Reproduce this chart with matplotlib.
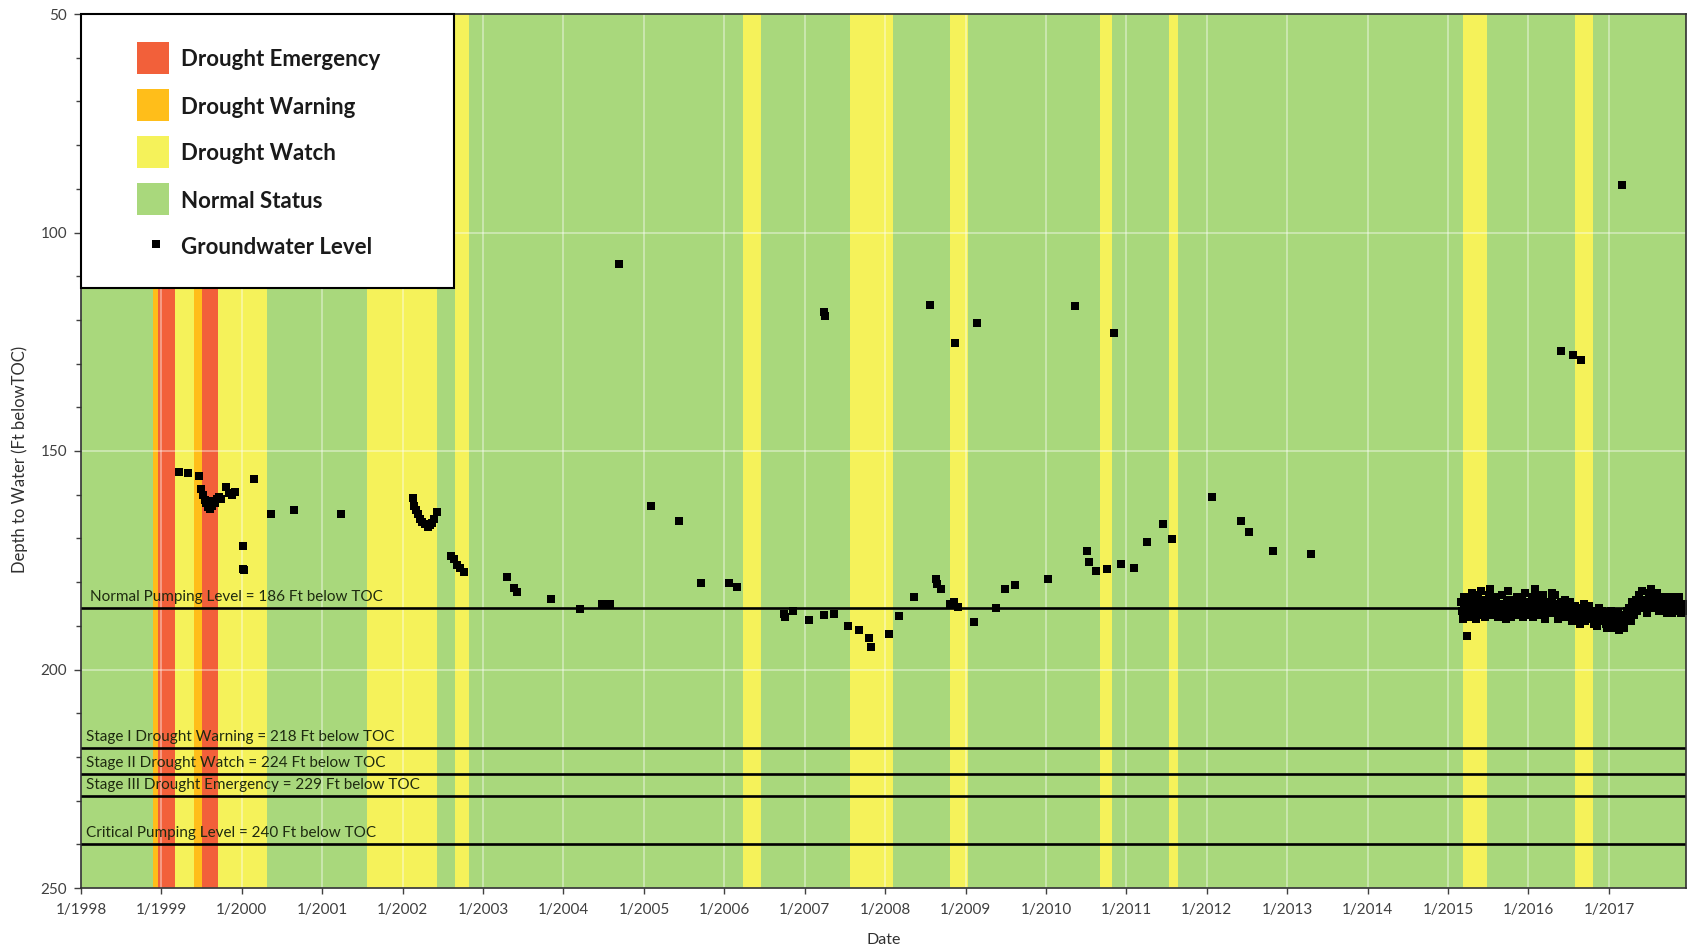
import numpy as np
import pandas as pd
import matplotlib
matplotlib.use('Agg')
import matplotlib.pyplot as plt
import matplotlib.dates as mdates
import matplotlib.ticker as mticker
import matplotlib.transforms as mtransforms
from matplotlib.patches import Rectangle

plt.rcParams['font.family'] = ['Lato', 'DejaVu Sans']

# ---------------- data ----------------
status_names = ['Drought Emergency', 'Drought Warning', 'Drought Watch', 'Normal Status']
status_colors = ['#F2603A', '#FFBE1A', '#F5F25A', '#A9D87C']

band_start = ['1998-11-25', '1998-12-17', '1999-03-03', '1999-05-30', '1999-07-06',
              '1999-09-13', '2001-07-23', '2002-08-25', '2006-03-28', '2007-07-25',
              '2008-10-23', '2010-09-02', '2011-07-16', '2015-03-10', '2016-07-30']
band_end = ['1998-12-17', '1999-03-03', '1999-05-30', '1999-07-06', '1999-09-13',
            '2000-04-27', '2002-06-06', '2002-10-30', '2006-06-16', '2008-02-06',
            '2009-01-12', '2010-10-27', '2011-08-25', '2015-06-28', '2016-10-22']
band_status = ['Drought Warning', 'Drought Emergency', 'Drought Watch', 'Drought Warning',
               'Drought Emergency', 'Drought Watch', 'Drought Watch', 'Drought Watch',
               'Drought Watch', 'Drought Watch', 'Drought Watch', 'Drought Watch',
               'Drought Watch', 'Drought Watch', 'Drought Watch']

gw_dates = ['1999-03-20', '1999-05-01', '1999-06-21', '1999-07-01', '1999-07-10',
            '1999-07-18', '1999-07-25', '1999-08-02', '1999-08-10', '1999-08-18',
            '1999-08-25', '1999-09-02', '1999-09-10', '1999-09-20', '1999-10-01',
            '1999-10-20', '1999-11-05', '1999-11-20', '1999-12-01', '2000-01-05',
            '2000-01-08', '2000-01-12', '2000-02-28', '2000-05-15', '2000-08-25',
            '2001-03-25', '2002-02-15', '2002-02-22', '2002-03-01', '2002-03-10',
            '2002-03-20', '2002-04-01', '2002-04-12', '2002-04-25', '2002-05-05',
            '2002-05-15', '2002-05-25', '2002-06-05', '2002-08-08', '2002-08-20',
            '2002-09-05', '2002-09-20', '2002-10-08', '2003-04-22', '2003-05-22',
            '2003-06-05', '2003-11-05', '2004-03-18', '2004-06-25', '2004-07-30',
            '2004-09-10', '2005-02-03', '2005-06-10', '2005-09-17', '2006-01-22',
            '2006-03-01', '2006-09-27', '2006-10-05', '2006-11-10', '2007-01-22',
            '2007-04-01', '2007-04-03', '2007-04-01', '2007-05-12', '2007-07-16',
            '2007-09-05', '2007-10-20', '2007-10-27', '2008-01-18', '2008-03-03',
            '2008-05-12', '2008-07-23', '2008-08-18', '2008-08-25', '2008-09-12',
            '2008-10-20', '2008-11-07', '2008-11-14', '2008-11-28', '2009-02-06',
            '2009-02-20', '2009-05-18', '2009-07-01', '2009-08-15', '2010-01-08',
            '2010-05-12', '2010-07-05', '2010-07-16', '2010-08-18', '2010-10-05',
            '2010-11-06', '2010-12-10', '2011-02-06', '2011-04-05', '2011-06-18',
            '2011-07-26', '2012-01-26', '2012-06-03', '2012-07-09', '2012-10-27',
            '2013-04-20', '2015-03-28', '2016-05-26', '2016-07-20', '2016-08-28',
            '2017-03-01']
gw_depth = [154.7, 155.1, 155.7, 158.8, 160.0,
            161.2, 162.0, 162.8, 163.2, 162.5,
            161.5, 162.0, 161.0, 160.5, 161.0,
            158.2, 159.5, 160.0, 159.3, 171.7,
            177.0, 177.3, 156.3, 164.5, 163.4,
            164.4, 160.8, 162.5, 163.5, 164.5,
            165.5, 166.2, 166.8, 167.3, 167.0,
            166.5, 165.5, 164.0, 174.0, 174.8,
            176.0, 176.8, 177.8, 178.9, 181.4,
            182.2, 183.9, 186.2, 185.1, 185.1,
            107.1, 162.7, 166.1, 180.2, 180.2,
            181.2, 187.4, 188.0, 186.7, 188.7,
            118.3, 119.2, 187.5, 187.2, 190.1,
            190.9, 192.9, 194.9, 191.9, 187.8,
            183.3, 116.7, 179.2, 180.4, 181.6,
            184.9, 184.5, 125.3, 185.6, 189.2,
            120.8, 185.9, 181.5, 180.7, 179.4,
            116.9, 172.9, 175.3, 177.4, 177.0,
            122.9, 175.8, 176.7, 170.8, 166.6,
            170.2, 160.6, 166.1, 168.6, 172.9,
            173.6, 192.3, 127.1, 128.0, 129.2,
            89.1]

# transducer record 2015-2017: twice-weekly readings grouped by month
dense_months = ['2015-03', '2015-04', '2015-05', '2015-06', '2015-07', '2015-08',
                '2015-09', '2015-10', '2015-11', '2015-12', '2016-01', '2016-02',
                '2016-03', '2016-04', '2016-05', '2016-06', '2016-07', '2016-08',
                '2016-09', '2016-10', '2016-11', '2016-12', '2017-01', '2017-02',
                '2017-03', '2017-04', '2017-05', '2017-06', '2017-07', '2017-08',
                '2017-09', '2017-10', '2017-11', '2017-12']
dense_readings = [
    [184.5, 186.5, 188.5, 185.0, 183.5, 187.0, 185.5, 184.0],
    [187.5, 185.5, 184.0, 186.0, 188.0, 182.5, 185.0, 186.5],
    [185.5, 187.0, 188.5, 184.5, 183.0, 186.0, 187.5, 185.0],
    [182.0, 184.0, 186.0, 187.5, 188.0, 185.5, 184.5, 186.5],
    [185.0, 183.0, 181.5, 185.5, 187.5, 186.0, 184.0, 185.5],
    [186.5, 184.5, 183.5, 186.0, 188.0, 185.5, 185.0, 187.0],
    [183.0, 185.0, 187.0, 186.0, 185.5, 187.5, 188.5, 184.5],
    [182.0, 184.0, 185.5, 187.0, 188.0, 186.0, 184.0, 185.5],
    [186.0, 184.5, 183.5, 185.5, 187.5, 186.5, 185.0, 184.0],
    [184.0, 186.0, 188.0, 185.0, 182.5, 184.5, 186.5, 187.5],
    [185.5, 186.5, 187.5, 185.0, 183.5, 186.0, 188.0, 184.5],
    [181.5, 183.5, 185.5, 186.5, 187.5, 185.0, 184.0, 186.0],
    [186.0, 184.5, 183.0, 185.5, 188.5, 186.5, 185.0, 187.0],
    [184.5, 186.0, 187.0, 185.0, 182.5, 184.0, 186.5, 185.5],
    [183.0, 185.0, 186.5, 187.5, 188.5, 186.0, 185.5, 184.5],
    [185.0, 186.5, 188.0, 186.0, 184.0, 185.5, 187.0, 186.0],
    [186.5, 185.5, 184.5, 187.0, 189.0, 187.5, 187.0, 186.0],
    [185.5, 187.0, 188.5, 187.5, 186.0, 188.0, 189.5, 187.0],
    [187.0, 186.0, 185.0, 187.5, 189.0, 188.0, 186.5, 187.5],
    [185.5, 187.0, 188.5, 188.0, 187.0, 188.5, 189.5, 186.5],
    [187.5, 189.0, 190.0, 188.0, 186.0, 187.5, 188.5, 189.0],
    [186.5, 188.0, 189.0, 188.5, 187.5, 189.5, 190.5, 188.0],
    [188.0, 187.0, 186.5, 188.5, 190.5, 189.0, 187.5, 188.5],
    [189.0, 188.0, 187.0, 189.0, 191.0, 189.5, 188.0, 188.5],
    [187.5, 189.0, 190.5, 189.5, 188.5, 187.5, 186.5, 188.0],
    [186.0, 187.5, 189.0, 186.5, 184.5, 186.0, 187.5, 185.5],
    [184.0, 185.5, 186.5, 184.5, 183.0, 184.5, 185.5, 186.0],
    [182.0, 184.0, 185.5, 184.5, 184.0, 185.5, 187.0, 185.0],
    [183.5, 182.5, 181.5, 184.0, 186.0, 185.0, 184.5, 183.5],
    [185.0, 183.5, 182.5, 184.5, 186.5, 185.5, 184.0, 185.0],
    [183.5, 185.0, 186.5, 185.5, 184.5, 186.0, 187.0, 185.0],
    [185.0, 184.0, 183.5, 185.5, 187.0, 186.0, 185.5, 184.5],
    [184.0, 185.5, 186.5, 185.0, 183.5, 185.5, 187.0, 186.0],
    [185.5, 186.0, 186.5, 185.0]]

ref_levels = [186, 218, 224, 229, 240]
ref_labels = ['Normal Pumping Level = 186 Ft below TOC',
              'Stage I Drought Warning = 218 Ft below TOC',
              'Stage II Drought Watch = 224 Ft below TOC',
              'Stage III Drought Emergency = 229 Ft below TOC',
              'Critical Pumping Level = 240 Ft below TOC']

year_ticks = list(range(1998, 2018))
y_ticks = [50, 100, 150, 200, 250]

# ---------------- figure ----------------
W, H = 1692, 951
fig = plt.figure(figsize=(W / 100, H / 100), dpi=100)
ax_l, ax_r, ax_t, ax_b = 81, 1686, 14, 888
ax = fig.add_axes([ax_l / W, 1 - ax_b / H, (ax_r - ax_l) / W, (ax_b - ax_t) / H])
axw, axh = ax_r - ax_l, ax_b - ax_t

color_of = dict(zip(status_names, status_colors))
ax.set_facecolor(color_of['Normal Status'])

for s, e, st in zip(band_start, band_end, band_status):
    ax.axvspan(pd.Timestamp(s), pd.Timestamp(e), color=color_of[st], lw=0, zorder=1)

# reference lines
blend = mtransforms.blended_transform_factory(ax.transAxes, ax.transData)
for lvl, lab in zip(ref_levels, ref_labels):
    ax.axhline(lvl, color='black', lw=1.9, zorder=3)
    xoff = 0.0056 if lvl == 186 else 0.003
    ax.text(xoff, lvl - 0.9, lab, transform=blend, ha='left', va='bottom',
            fontsize=11, color='#1E2A10', zorder=3.5)

# groundwater points
MS = 6.2
gd = pd.to_datetime(gw_dates)
ax.plot(gd, gw_depth, 's', color='black', ms=MS, mew=0, zorder=4)

dd, dv = [], []
for m, vals in zip(dense_months, dense_readings):
    base = pd.Timestamp(m + '-01')
    for i, v in enumerate(vals):
        dd.append(base + pd.Timedelta(hours=84 * i + 24))
        dv.append(v)
ax.plot(dd, dv, 's', color='black', ms=MS, mew=0, zorder=4)

# axes
ax.set_xlim(pd.Timestamp('1998-01-01'), pd.Timestamp('2017-12-17'))
ax.set_ylim(250, 50)
ax.set_xticks([pd.Timestamp(f'{y}-01-01') for y in year_ticks])
ax.set_xticklabels([f'1/{y}' for y in year_ticks])
ax.set_yticks(y_ticks)
ax.yaxis.set_minor_locator(mticker.MultipleLocator(10))
ax.tick_params(axis='x', which='major', direction='out', length=4, width=1,
               color='#404040', labelsize=11, labelcolor='#404040', pad=7)
ax.tick_params(axis='y', which='major', direction='out', length=5, width=1,
               color='#404040', labelsize=11, labelcolor='#404040', pad=5)
ax.tick_params(axis='y', which='minor', direction='out', length=3.5, width=1,
               color='#404040')
ax.grid(True, which='major', color='white', alpha=0.45, lw=1.2, zorder=1.5)
ax.set_axisbelow('line')
for sp in ax.spines.values():
    sp.set_color('#303030')
    sp.set_linewidth(1.2)
    sp.set_zorder(5)

ax.set_xlabel('Date', fontsize=11.5, color='#303030')
ax.xaxis.set_label_coords(0.5, -(933 - ax_b) / axh)
ax.set_ylabel('Depth to Water (Ft belowTOC)', fontsize=12, color='#303030')
ax.yaxis.set_label_coords((28 - ax_l) / axw, 0.49)

# legend (drawn inside the plot, upper-left)
def ax_x(px):
    return (px - ax_l) / axw

def ax_y(py):
    return 1 - (py - ax_t) / axh

ax.add_patch(Rectangle((0, ax_y(288)), ax_x(454), 1 - ax_y(288), transform=ax.transAxes,
                       facecolor='white', edgecolor='black', lw=1.5, zorder=10,
                       clip_on=False))
row_y = [58, 105, 152, 199, 246]
sq = 32
for name, py in zip(status_names, row_y[:4]):
    ax.add_patch(Rectangle((ax_x(137), ax_y(py + sq / 2)), sq / axw, sq / axh,
                           transform=ax.transAxes, facecolor=color_of[name],
                           edgecolor='none', zorder=11))
    ax.text(ax_x(181), ax_y(py + 2), name, transform=ax.transAxes, ha='left', va='center',
            fontsize=16, fontweight='bold', color='#1A1A1A', zorder=12)
ax.plot([ax_x(156)], [ax_y(row_y[4] - 2)], 's', color='black', ms=MS, mew=0,
        transform=ax.transAxes, zorder=12, clip_on=False)
ax.text(ax_x(181), ax_y(row_y[4] + 2), 'Groundwater Level', transform=ax.transAxes,
        ha='left', va='center', fontsize=16, fontweight='bold', color='#1A1A1A', zorder=12)

fig.savefig('out.png', dpi=100)
